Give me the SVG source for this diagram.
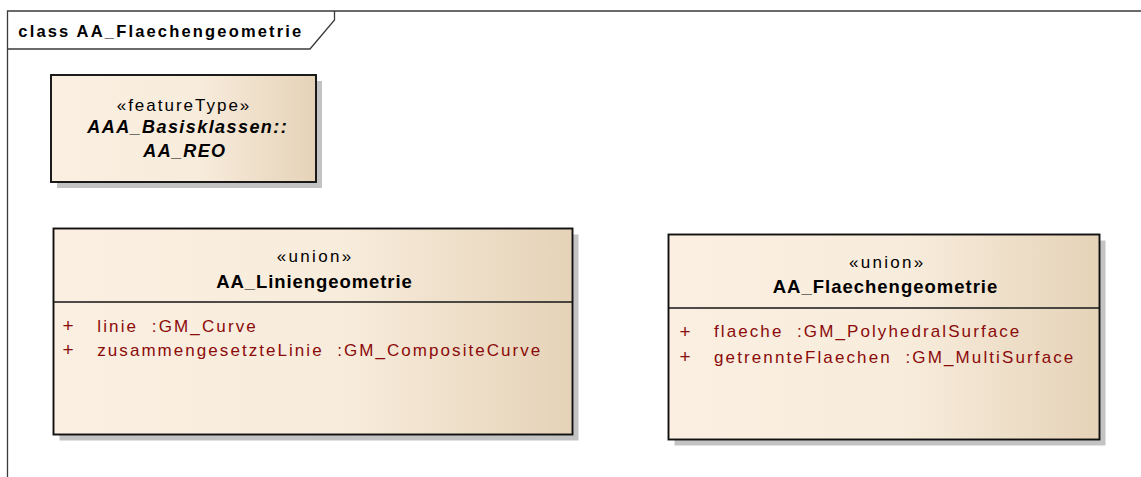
<svg xmlns="http://www.w3.org/2000/svg" width="1141" height="477" viewBox="0 0 1141 477">
<style>
.frame{fill:none;stroke:#3a3a3a;stroke-width:1.3}
.box{stroke:#111;stroke-width:1.9;fill:url(#g)}
.sh{fill:#c3c3c3}
.sep{stroke:#151515;stroke-width:1.5}
text{font-family:"Liberation Sans",Arial,sans-serif}
.title{font-size:16.5px;font-weight:bold;fill:#000}
.st{font-size:17px;fill:#000}
.nm{font-size:18.5px;font-weight:bold;fill:#000}
.nmi{font-size:18px;font-weight:bold;font-style:italic;fill:#000}
.at{font-size:17px;fill:#8b0a0a}
.pl{font-size:19px;fill:#8b0a0a}
</style>
<defs>
<linearGradient id="g" x1="0" y1="0" x2="1" y2="0">
<stop offset="0" stop-color="#faefe1"/>
<stop offset="0.55" stop-color="#f8ecdc"/>
<stop offset="1" stop-color="#e5d3b8"/>
</linearGradient>
</defs>
<rect width="1141" height="477" fill="#fff"/>
<g id="frame">
<path class="frame" d="M7.5,477 V11 H1141"/>
<path class="frame" d="M7.5,49 H310 L334.5,20 V11"/>
<text class="title" x="18.3" y="36.5" textLength="283">class AA_Flaechengeometrie</text>
</g>
<g id="AA_REO">
<rect class="sh" x="57" y="81" width="265" height="107"/>
<rect class="box" x="51" y="75" width="265" height="107"/>
<text class="st" x="116.7" y="110.7" textLength="132.6">«featureType»</text>
<text class="nmi" x="87.3" y="133.3" textLength="199.4">AAA_Basisklassen::</text>
<text class="nmi" x="143.3" y="156.7" textLength="81.7">AA_REO</text>
</g>
<g id="AA_Liniengeometrie">
<rect class="sh" x="59.5" y="234.5" width="519" height="206"/>
<rect class="box" x="53.5" y="228.5" width="519" height="206"/>
<line class="sep" x1="53.5" y1="302" x2="572.5" y2="302"/>
<text class="st" x="276.8" y="262.3" textLength="74.4">«union»</text>
<text class="nm" x="216.3" y="287.7" textLength="195.5">AA_Liniengeometrie</text>
<text class="pl" x="62.5" y="332">+</text>
<text class="at" x="97.3" y="331.7" textLength="158.5" xml:space="preserve">linie  :GM_Curve</text>
<text class="pl" x="62.5" y="356.3">+</text>
<text class="at" x="97.3" y="356" textLength="443" xml:space="preserve">zusammengesetzteLinie  :GM_CompositeCurve</text>
</g>
<g id="AA_Flaechengeometrie">
<rect class="sh" x="674.5" y="240.5" width="431" height="205"/>
<rect class="box" x="668.5" y="234.5" width="431" height="205"/>
<line class="sep" x1="668.5" y1="308" x2="1099.5" y2="308"/>
<text class="st" x="849" y="267.7" textLength="74.3">«union»</text>
<text class="nm" x="772.7" y="293.3" textLength="224.6">AA_Flaechengeometrie</text>
<text class="pl" x="679.5" y="337.6">+</text>
<text class="at" x="714" y="337.3" textLength="305.3" xml:space="preserve">flaeche  :GM_PolyhedralSurface</text>
<text class="pl" x="679.5" y="362.8">+</text>
<text class="at" x="714" y="362.5" textLength="359.3" xml:space="preserve">getrennteFlaechen  :GM_MultiSurface</text>
</g>
<g id="connectors"/>
</svg>
